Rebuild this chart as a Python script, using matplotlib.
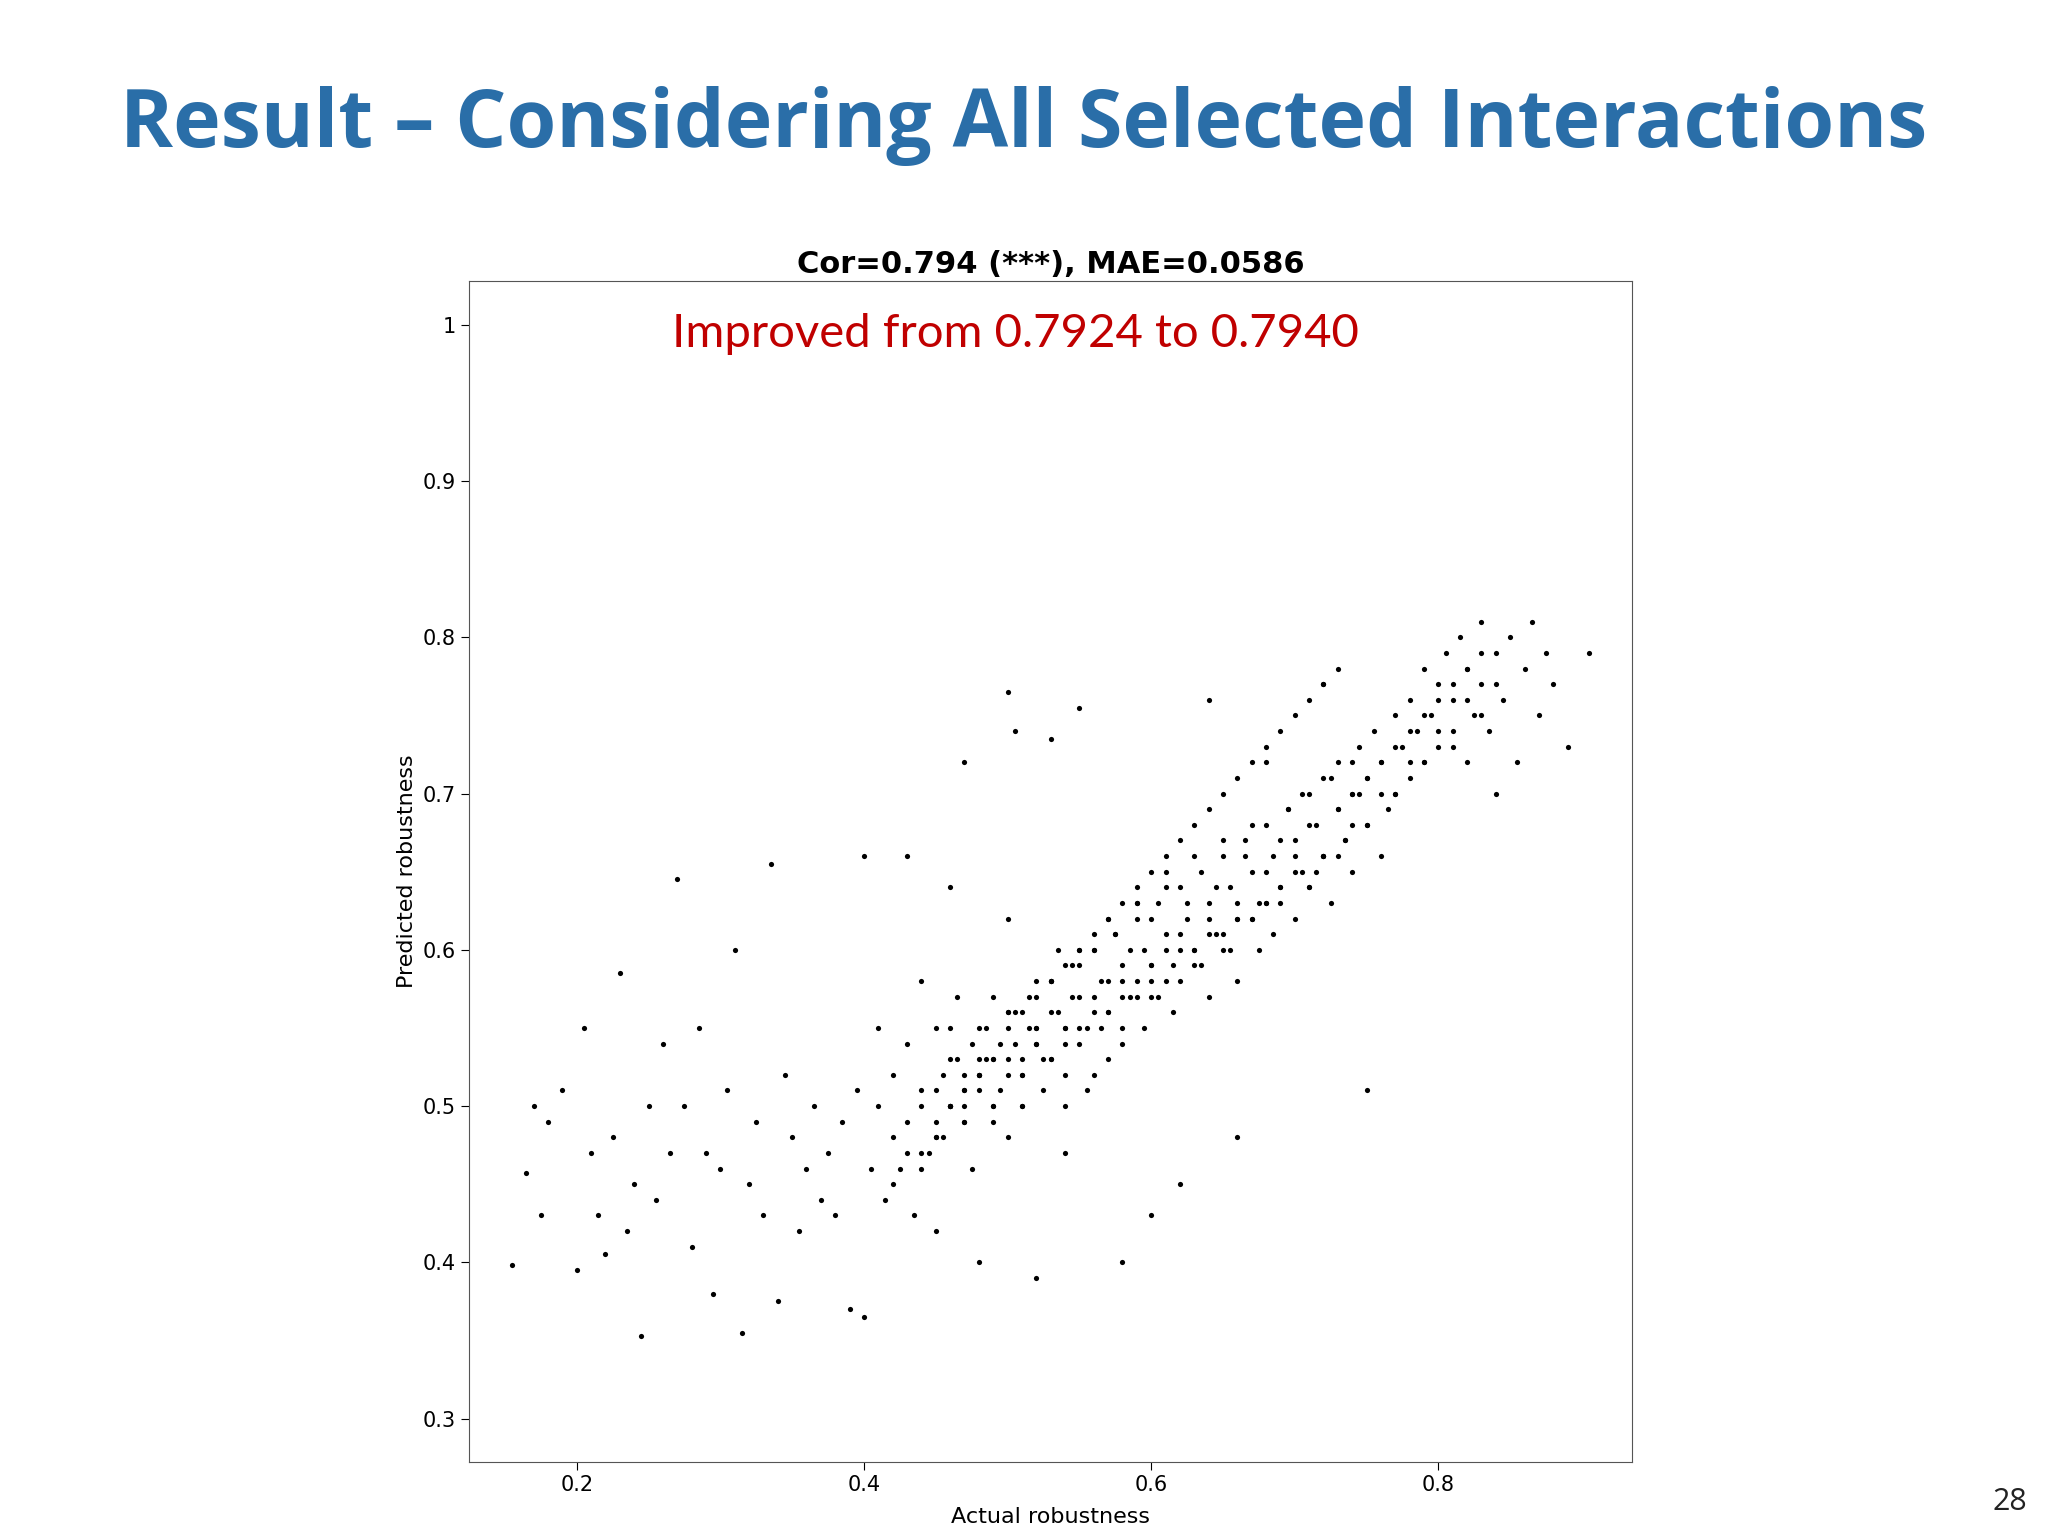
import matplotlib
matplotlib.use("Agg")
import matplotlib.pyplot as plt

actual = [
0.155,0.165,0.17,0.175,0.18,0.19,0.2,0.205,0.21,0.215,0.22,0.225,0.23,0.235,0.24,0.245,0.25,0.255,0.26,0.265,
0.27,0.275,0.28,0.285,0.29,0.295,0.3,0.305,0.31,0.315,0.32,0.325,0.33,0.335,0.34,0.345,0.35,0.355,0.36,0.365,
0.37,0.375,0.38,0.385,0.39,0.395,0.4,0.4,0.405,0.41,0.41,0.415,0.42,0.42,0.425,0.43,0.43,0.435,0.44,0.44,
0.445,0.45,0.45,0.455,0.46,0.46,0.465,0.47,0.47,0.475,0.48,0.48,0.485,0.49,0.49,0.495,0.5,0.5,0.505,0.51,
0.51,0.515,0.52,0.52,0.525,0.53,0.53,0.535,0.54,0.54,0.545,0.55,0.55,0.555,0.56,0.56,0.565,0.57,0.57,0.575,
0.58,0.58,0.585,0.59,0.59,0.595,0.6,0.6,0.605,0.61,0.61,0.615,0.62,0.62,0.625,0.63,0.63,0.635,0.64,0.64,
0.645,0.65,0.65,0.655,0.66,0.66,0.665,0.67,0.67,0.675,0.68,0.68,0.685,0.69,0.69,0.695,0.7,0.7,0.705,0.71,
0.71,0.715,0.72,0.72,0.725,0.73,0.73,0.735,0.74,0.74,0.745,0.75,0.75,0.755,0.76,0.76,0.765,0.77,0.77,0.775,
0.78,0.78,0.785,0.79,0.79,0.795,0.8,0.8,0.805,0.81,0.81,0.815,0.82,0.82,0.825,0.83,0.83,0.835,0.84,0.84,
0.845,0.85,0.855,0.86,0.865,0.87,0.875,0.88,0.89,0.905,
0.47,0.5,0.505,0.53,0.55,0.45,0.48,0.52,0.58,0.62,0.64,0.68,0.72,0.75,0.5,0.46,0.54,0.43,0.6,0.66,
0.44,0.47,0.49,0.51,0.53,0.55,0.57,0.59,0.61,0.63,0.65,0.67,0.69,0.71,0.73,0.75,0.77,0.79,0.81,0.83,
0.46,0.48,0.5,0.52,0.54,0.56,0.58,0.6,0.62,0.64,0.66,0.68,0.7,0.72,0.74,0.76,0.78,0.8,0.82,0.84,
0.45,0.455,0.46,0.465,0.47,0.475,0.48,0.485,0.49,0.495,0.5,0.505,0.51,0.515,0.52,0.525,0.53,0.535,0.54,0.545,
0.55,0.555,0.56,0.565,0.57,0.575,0.58,0.585,0.59,0.595,0.6,0.605,0.61,0.615,0.62,0.625,0.63,0.635,0.64,0.645,
0.65,0.655,0.66,0.665,0.67,0.675,0.68,0.685,0.69,0.695,0.7,0.705,0.71,0.715,0.72,0.725,0.73,0.735,0.74,0.745,
0.44,0.45,0.46,0.47,0.48,0.49,0.5,0.51,0.52,0.53,0.54,0.55,0.56,0.57,0.58,0.59,0.6,0.61,0.62,0.63,
0.64,0.65,0.66,0.67,0.68,0.69,0.7,0.71,0.72,0.73,0.74,0.75,0.76,0.77,0.78,0.79,0.8,0.81,0.82,0.83,
0.42,0.43,0.44,0.45,0.46,0.47,0.48,0.49,0.5,0.51,0.52,0.53,0.54,0.55,0.56,0.57,0.58,0.59,0.6,0.61,
]
predicted = [
0.398,0.457,0.5,0.43,0.49,0.51,0.395,0.55,0.47,0.43,0.405,0.48,0.585,0.42,0.45,0.353,0.5,0.44,0.54,0.47,
0.645,0.5,0.41,0.55,0.47,0.38,0.46,0.51,0.6,0.355,0.45,0.49,0.43,0.655,0.375,0.52,0.48,0.42,0.46,0.5,
0.44,0.47,0.43,0.49,0.37,0.51,0.365,0.66,0.46,0.5,0.55,0.44,0.48,0.52,0.46,0.49,0.54,0.43,0.5,0.58,
0.47,0.51,0.55,0.48,0.53,0.5,0.57,0.49,0.52,0.46,0.55,0.51,0.53,0.5,0.57,0.54,0.52,0.48,0.56,0.53,
0.5,0.55,0.54,0.58,0.51,0.56,0.53,0.6,0.55,0.52,0.57,0.54,0.59,0.51,0.56,0.6,0.55,0.58,0.53,0.61,
0.57,0.54,0.6,0.58,0.63,0.55,0.59,0.62,0.57,0.6,0.64,0.56,0.61,0.58,0.63,0.6,0.66,0.59,0.62,0.57,
0.64,0.61,0.67,0.6,0.63,0.58,0.66,0.62,0.68,0.6,0.65,0.63,0.61,0.67,0.64,0.69,0.62,0.66,0.7,0.64,
0.68,0.65,0.71,0.66,0.63,0.69,0.72,0.67,0.7,0.65,0.73,0.68,0.71,0.74,0.66,0.72,0.69,0.75,0.7,0.73,
0.76,0.71,0.74,0.72,0.78,0.75,0.73,0.77,0.79,0.74,0.76,0.8,0.72,0.78,0.75,0.81,0.77,0.74,0.79,0.7,
0.76,0.8,0.72,0.78,0.81,0.75,0.79,0.77,0.73,0.79,
0.72,0.765,0.74,0.735,0.755,0.42,0.4,0.39,0.4,0.45,0.76,0.72,0.77,0.51,0.62,0.64,0.47,0.66,0.43,0.48,
0.47,0.49,0.5,0.52,0.53,0.55,0.56,0.57,0.58,0.59,0.6,0.62,0.63,0.64,0.66,0.68,0.7,0.72,0.73,0.75,
0.5,0.52,0.53,0.54,0.55,0.57,0.58,0.59,0.6,0.61,0.62,0.63,0.65,0.66,0.68,0.7,0.72,0.74,0.76,0.77,
0.49,0.52,0.5,0.53,0.51,0.54,0.52,0.55,0.53,0.51,0.56,0.54,0.52,0.57,0.55,0.53,0.58,0.56,0.54,0.59,
0.57,0.55,0.6,0.58,0.56,0.61,0.59,0.57,0.62,0.6,0.58,0.63,0.61,0.59,0.64,0.62,0.6,0.65,0.63,0.61,
0.66,0.64,0.62,0.67,0.65,0.63,0.68,0.66,0.64,0.69,0.67,0.65,0.7,0.68,0.66,0.71,0.69,0.67,0.72,0.7,
0.46,0.48,0.5,0.51,0.52,0.53,0.55,0.56,0.57,0.58,0.59,0.6,0.61,0.62,0.63,0.64,0.65,0.66,0.67,0.68,
0.69,0.7,0.71,0.72,0.73,0.74,0.75,0.76,0.77,0.78,0.7,0.71,0.72,0.73,0.74,0.75,0.76,0.77,0.78,0.79,
0.45,0.47,0.51,0.48,0.55,0.5,0.53,0.49,0.56,0.5,0.55,0.58,0.5,0.6,0.52,0.62,0.55,0.63,0.57,0.65,
]

fig = plt.figure(figsize=(20.48, 15.36), dpi=100)
fig.patch.set_facecolor("white")
fig.text(0.5, 0.918, "Result \u2013 Considering All Selected Interactions", ha="center", va="center",
         fontsize=58, fontweight="bold", color="#2a6ea8", family="Open Sans")
fig.text(0.99, 0.022, "28", ha="right", va="center", fontsize=22, color="#222222", family="Open Sans")

ax = fig.add_axes([0.229, 0.048, 0.568, 0.769])
ax.scatter(actual, predicted, s=14, c="black", linewidths=0)
ax.set_xlim(0.125, 0.935)
ax.set_ylim(0.272, 1.028)
ax.set_xticks([0.2, 0.4, 0.6, 0.8])
ax.set_xticklabels(["0.2", "0.4", "0.6", "0.8"])
ax.set_yticks([0.3, 0.4, 0.5, 0.6, 0.7, 0.8, 0.9, 1.0])
ax.set_yticklabels(["0.3", "0.4", "0.5", "0.6", "0.7", "0.8", "0.9", "1"])
ax.tick_params(labelsize=15, direction="out", length=6)
for s in ax.spines.values():
    s.set_color("#555555")
ax.set_xlabel("Actual robustness", fontsize=16, labelpad=8)
ax.set_ylabel("Predicted robustness", fontsize=16)
ax.set_title("Cor=0.794 (***), MAE=0.0586", fontsize=22, fontweight="bold", pad=6)
ax.text(0.47, 0.955, "Improved from 0.7924 to 0.7940", transform=ax.transAxes, ha="center", va="center",
        fontsize=34, color="#c00000", family="Lato")
fig.savefig("out.png", dpi=100)
